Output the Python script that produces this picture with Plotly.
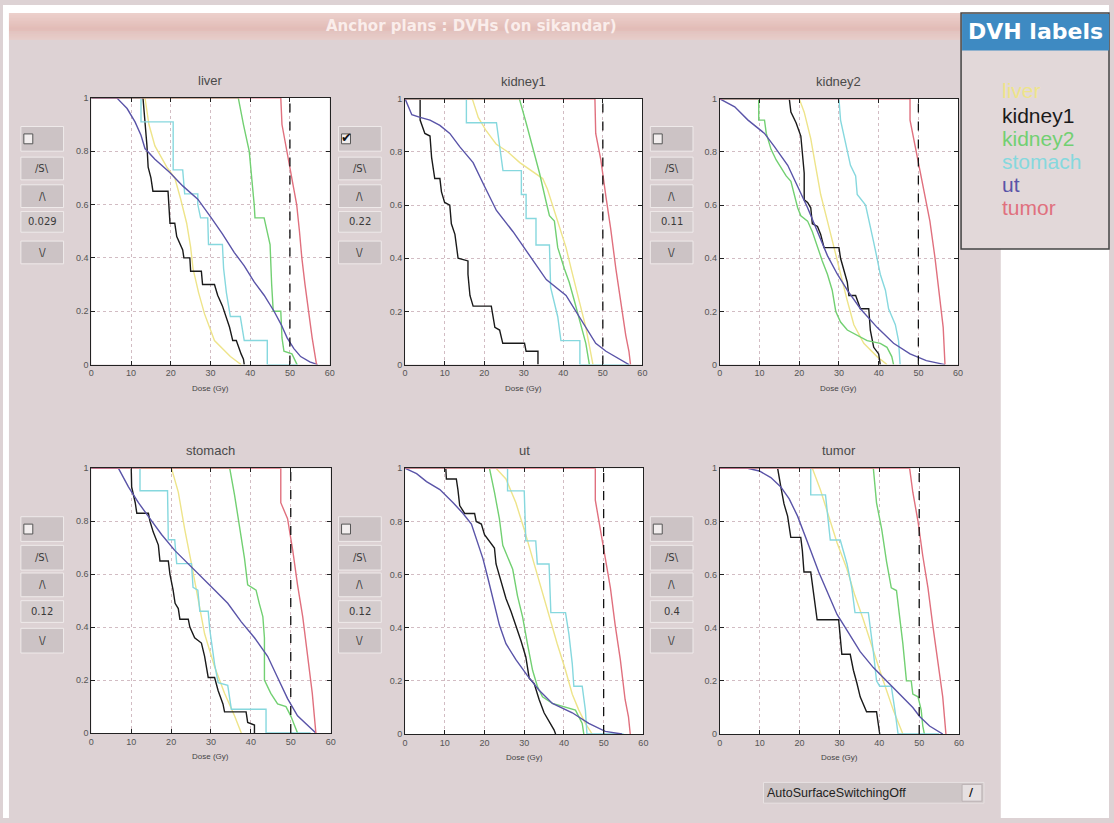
import plotly.graph_objects as go

W, H = 1114, 823

# ---------------------------------------------------------------- data
organs = ["liver", "kidney1", "kidney2", "stomach", "ut", "tumor"]
organ_colors = ["#EEE48A", "#1A1A1A", "#72D072", "#86D8DE", "#5A54A8", "#E0707E"]
dose_ticks = [0, 10, 20, 30, 40, 50, 60]
volume_ticks = [0, 0.2, 0.4, 0.6, 0.8, 1]
volume_labels = ["0", "0.2", "0.4", "0.6", "0.8", "1"]
rx_dose = 50
weights = ["0.029", "0.22", "0.11", "0.12", "0.12", "0.4"]
surface_on = [False, True, False, False, False, False]
button_labels = ["/S\\", "/\\", "\\/"]
window_title = "Anchor plans : DVHs (on sikandar)"
switch_label = "AutoSurfaceSwitchingOff"

# DVH curves (dose in Gy, fractional volume), one list per plan panel / structure
liver_liver = [(0, 1), (13.5, 1), (14.5, 0.9), (16, 0.82), (19, 0.74), (21, 0.7), (22.5, 0.62),
               (24, 0.53), (25, 0.44), (25.6, 0.36), (27, 0.27), (28.5, 0.19), (31, 0.09),
               (35, 0.03), (37.7, 0)]
liver_kidney1 = [(0, 1), (13, 1), (14, 0.82), (14.3, 0.74), (15, 0.7), (15.5, 0.65), (19.3, 0.65),
                 (19.5, 0.58), (19.8, 0.53), (21, 0.53), (21.5, 0.48), (23, 0.43), (23.3, 0.4),
                 (24.8, 0.4), (25, 0.35), (27.7, 0.35), (28, 0.3), (31, 0.3), (31.8, 0.26),
                 (33, 0.22), (34, 0.18), (34.8, 0.14), (35.6, 0.09), (36.5, 0.09), (37.7, 0.04),
                 (38.3, 0.02), (38.5, 0)]
liver_kidney2 = [(0, 1), (37, 1), (38.3, 0.9), (39.75, 0.8), (41, 0.6), (41.2, 0.55), (43.5, 0.55),
                 (45, 0.45), (45.4, 0.3), (45.8, 0.2), (47.7, 0.2), (48, 0.1), (48.5, 0.05),
                 (50.5, 0.04), (51.8, 0)]
liver_stomach = [(0, 1), (12.5, 1), (12.5, 0.91), (20.6, 0.91), (20.6, 0.73), (23, 0.73),
                 (23.5, 0.64), (26.8, 0.64), (26.8, 0.6), (27.5, 0.55), (29.3, 0.55), (29.5, 0.45),
                 (33, 0.45), (33.3, 0.36), (34, 0.27), (35, 0.18), (37.5, 0.18), (38.5, 0.09),
                 (44.3, 0.09), (44.3, 0), (52, 0)]
liver_ut = [(0, 1), (6.4, 1), (9, 0.96), (11, 0.91), (12.5, 0.86), (13.5, 0.81), (16, 0.77),
            (19.75, 0.72), (23, 0.67), (26.8, 0.62), (30.2, 0.55), (33, 0.49), (36, 0.42),
            (38.5, 0.37), (41, 0.31), (43.5, 0.26), (46, 0.2), (47.8, 0.15), (49.3, 0.1),
            (51, 0.06), (52.7, 0.03), (55, 0.01), (57, 0)]
liver_tumor = [(0, 1), (47.7, 1), (48, 0.9), (49.2, 0.8), (50.5, 0.7), (51.7, 0.6), (52.4, 0.5),
               (53, 0.4), (53.8, 0.3), (54.7, 0.2), (55.6, 0.1), (56.7, 0)]

kidney1_liver = [(0, 1), (17, 1), (18.5, 0.93), (20.5, 0.88), (23, 0.83), (26, 0.8), (29, 0.76),
                 (32, 0.73), (34.8, 0.7), (36, 0.66), (37.3, 0.6), (39, 0.52), (40.7, 0.44),
                 (42, 0.36), (43.2, 0.29), (44.5, 0.21), (45.7, 0.14), (46.6, 0.07), (47.5, 0)]
kidney1_kidney1 = [(0, 1), (3.8, 1), (3.8, 0.92), (5, 0.87), (6.3, 0.86), (6.7, 0.78), (7.5, 0.7),
                   (8.8, 0.7), (9.2, 0.65), (10, 0.61), (11.3, 0.6), (11.7, 0.53), (12.6, 0.49),
                   (13, 0.44), (13.4, 0.4), (15.9, 0.39), (15.9, 0.34), (16.4, 0.26), (17.2, 0.22),
                   (21.8, 0.22), (22.2, 0.18), (22.7, 0.14), (23.9, 0.13), (24.7, 0.08),
                   (30.2, 0.08), (30.6, 0.05), (33.6, 0.05), (33.6, 0)]
kidney1_kidney2 = [(0, 1), (28.9, 1), (30.6, 0.91), (32.3, 0.82), (34, 0.72), (35.7, 0.61),
                   (36.5, 0.56), (37.75, 0.54), (38.6, 0.44), (40.3, 0.36), (41.5, 0.31),
                   (42.8, 0.24), (44.5, 0.15), (45.7, 0.08), (46.6, 0)]
kidney1_stomach = [(0, 1), (15.5, 1), (15.5, 0.91), (23.1, 0.91), (24.75, 0.73), (29.4, 0.73),
                   (29.4, 0.64), (30.6, 0.64), (30.6, 0.55), (33.1, 0.55), (33.1, 0.45),
                   (36.5, 0.45), (36.8, 0.29), (38.6, 0.18), (39.4, 0.09), (44.2, 0.09),
                   (44.2, 0), (57, 0)]
kidney1_ut = [(0, 1), (1.7, 0.94), (3.8, 0.93), (6.3, 0.92), (8.8, 0.9), (11.3, 0.87),
              (13.8, 0.82), (17.2, 0.76), (20.1, 0.67), (23.1, 0.58), (27.3, 0.5), (30.6, 0.43),
              (35.7, 0.32), (40.7, 0.26), (44, 0.18), (48.2, 0.08), (50.8, 0.05), (55, 0.015),
              (56.6, 0)]
kidney1_tumor = [(0, 1), (48, 1), (48.2, 0.87), (49.5, 0.77), (50.8, 0.63), (52, 0.51),
                 (53.3, 0.36), (54.5, 0.24), (55.8, 0.11), (56.6, 0.05), (57, 0)]

kidney2_liver = [(0, 1), (20, 1), (21.25, 0.95), (22.9, 0.85), (24.2, 0.74), (25.4, 0.64),
                 (27.1, 0.54), (28.75, 0.44), (30.4, 0.34), (32.1, 0.24), (33.75, 0.15),
                 (36.25, 0.08), (39.6, 0.03), (42.1, 0)]
kidney2_kidney1 = [(0, 1), (17.5, 1), (17.9, 0.95), (19.2, 0.91), (20.4, 0.86), (20.8, 0.8),
                   (21.25, 0.72), (21.25, 0.62), (22.1, 0.61), (22.9, 0.59), (23.3, 0.53),
                   (24.6, 0.52), (25.4, 0.49), (26.25, 0.44), (30, 0.44), (30.4, 0.4),
                   (31.25, 0.35), (32.1, 0.31), (32.5, 0.26), (34.2, 0.26), (35.4, 0.21),
                   (37.5, 0.21), (37.9, 0.13), (38.75, 0.065), (40, 0.04), (40.4, 0)]
kidney2_kidney2 = [(0, 1), (9.8, 1), (9.8, 0.92), (11.25, 0.92), (11.7, 0.87), (12.9, 0.81),
                   (14.2, 0.77), (15.4, 0.74), (16.7, 0.71), (17.9, 0.69), (18.75, 0.64),
                   (19.6, 0.59), (20.4, 0.56), (22.1, 0.54), (23.3, 0.5), (24.6, 0.44),
                   (25.8, 0.39), (27.1, 0.34), (28.3, 0.28), (29.2, 0.2), (30.4, 0.16),
                   (32.1, 0.13), (37.1, 0.09), (40.4, 0.08), (42.1, 0.065), (43.3, 0.03),
                   (43.75, 0)]
kidney2_stomach = [(0, 1), (30, 1), (30.4, 0.92), (31.25, 0.86), (32.1, 0.8), (32.9, 0.75),
                   (34.2, 0.71), (34.6, 0.64), (36.7, 0.6), (37.5, 0.54), (38.75, 0.46),
                   (39.6, 0.4), (40.4, 0.34), (41.7, 0.28), (42.5, 0.21), (44.2, 0.15),
                   (45, 0.09), (45.4, 0)]
kidney2_ut = [(0, 1), (3.75, 0.97), (7.1, 0.92), (11.25, 0.87), (13.75, 0.82), (17.1, 0.75),
              (19.6, 0.67), (22.1, 0.59), (24.6, 0.5), (27.1, 0.41), (29.6, 0.34), (32.1, 0.28),
              (35.4, 0.21), (39.6, 0.14), (43.75, 0.08), (47.9, 0.04), (52, 0.015), (56.7, 0)]
kidney2_tumor = [(0, 1), (47.9, 1), (47.9, 0.92), (49.6, 0.79), (51.25, 0.66), (52.9, 0.54),
                 (54.2, 0.4), (55.4, 0.26), (56.25, 0.14), (56.7, 0)]

stomach_liver = [(0, 1), (20.1, 1), (21.8, 0.91), (23.4, 0.77), (25.1, 0.64), (26.8, 0.5),
                 (28.4, 0.375), (30.9, 0.25), (33.4, 0.15), (35.9, 0.065), (37.6, 0)]
stomach_kidney1 = [(0, 1), (10, 1), (10.1, 0.93), (11, 0.87), (11.4, 0.83), (14.3, 0.83),
                   (14.7, 0.8), (15.5, 0.76), (16.8, 0.71), (17.2, 0.65), (19.3, 0.65),
                   (19.7, 0.6), (20.5, 0.54), (21, 0.49), (21.8, 0.47), (22.2, 0.43),
                   (24.3, 0.43), (24.7, 0.4), (25.9, 0.36), (27.6, 0.34), (28.4, 0.29),
                   (29.3, 0.21), (30.9, 0.21), (31.8, 0.16), (33, 0.11), (33.4, 0.08),
                   (38.8, 0.08), (39.2, 0.04), (40.9, 0.03), (40.9, 0)]
stomach_kidney2 = [(0, 1), (34.7, 1), (35.9, 0.9), (37.2, 0.77), (38.4, 0.66), (39.2, 0.56),
                   (41.3, 0.54), (42.1, 0.49), (43, 0.44), (43.4, 0.36), (43.4, 0.2),
                   (45, 0.15), (46.7, 0.11), (48.8, 0.1), (50, 0.065), (50.9, 0.03), (51.7, 0)]
stomach_stomach = [(0, 1), (12.2, 1), (12.2, 0.915), (19.1, 0.915), (19.3, 0.73), (20.9, 0.73),
                   (21.4, 0.64), (25.1, 0.64), (25.5, 0.55), (26.7, 0.54), (27.2, 0.46),
                   (29.3, 0.46), (29.7, 0.39), (30.9, 0.26), (31.8, 0.19), (34.2, 0.18),
                   (35.1, 0.09), (43.8, 0.09), (43.8, 0), (55, 0)]
stomach_ut = [(0, 1), (6.8, 1), (9.3, 0.93), (11.8, 0.87), (14.7, 0.81), (17.6, 0.75),
              (20.9, 0.69), (24.3, 0.64), (27.6, 0.59), (30.9, 0.54), (34.2, 0.49), (37.6, 0.42),
              (40.9, 0.36), (44.2, 0.29), (46.7, 0.21), (49.2, 0.13), (51.7, 0.065),
              (54.2, 0.03), (56.3, 0)]
stomach_tumor = [(0, 1), (47.5, 1), (47.5, 0.87), (49.2, 0.81), (50.5, 0.69), (51.7, 0.56),
                 (53, 0.44), (54.2, 0.29), (55.4, 0.15), (56.3, 0)]

ut_liver = [(0, 1), (22.9, 1), (25.4, 0.96), (27.9, 0.87), (30, 0.77), (32.1, 0.66), (34.2, 0.55),
            (36.25, 0.44), (38.3, 0.34), (40.4, 0.24), (42.1, 0.15), (43.75, 0.09),
            (45.4, 0.04), (47.1, 0)]
ut_kidney1 = [(0, 1), (10.25, 1), (10.4, 0.96), (12.9, 0.96), (13.3, 0.92), (13.75, 0.86),
              (15, 0.83), (17.5, 0.83), (17.9, 0.8), (19.2, 0.79), (20, 0.75), (22.5, 0.7),
              (22.9, 0.64), (24.2, 0.57), (25.4, 0.51), (26.7, 0.46), (27.9, 0.41),
              (29.2, 0.35), (30.4, 0.29), (31.25, 0.21), (32.5, 0.19), (33.75, 0.13),
              (35, 0.08), (36.25, 0.05), (37.5, 0.016), (37.9, 0)]
ut_kidney2 = [(0, 1), (21.25, 1), (22.5, 0.91), (23.75, 0.81), (24.6, 0.71), (25.8, 0.67),
              (27.1, 0.62), (28.3, 0.52), (29.6, 0.44), (30.8, 0.34), (32.1, 0.24), (33.3, 0.18),
              (34.6, 0.14), (37.1, 0.115), (40.4, 0.1), (42.9, 0.09), (44.6, 0.04), (45, 0)]
ut_stomach = [(0, 1), (25.8, 1), (25.8, 0.915), (30, 0.915), (30.4, 0.727), (32.9, 0.727),
              (33.3, 0.64), (36.25, 0.64), (36.7, 0.457), (40.4, 0.457), (41.25, 0.376),
              (42.1, 0.264), (42.5, 0.18), (44.6, 0.18), (45.4, 0.09), (45.8, 0), (55, 0)]
ut_ut = [(0, 1), (2.9, 0.98), (5.4, 0.95), (8.75, 0.92), (12.1, 0.87), (14.6, 0.83), (16.7, 0.79),
         (18.3, 0.72), (19.6, 0.66), (20.8, 0.59), (22.1, 0.51), (23.75, 0.41), (25.4, 0.34),
         (27.9, 0.28), (30.8, 0.22), (33.75, 0.165), (37.1, 0.115), (42.1, 0.08), (46.25, 0.04),
         (50.4, 0.01), (54.6, 0)]
ut_tumor = [(0, 1), (47.9, 1), (47.9, 0.88), (49.2, 0.77), (50.4, 0.66), (51.7, 0.55),
            (52.9, 0.41), (54.2, 0.28), (55.4, 0.13), (56.25, 0.065), (56.7, 0)]

tumor_liver = [(0, 1), (23.2, 1), (25.2, 0.92), (27.3, 0.82), (29.4, 0.72), (31.9, 0.62),
               (33.9, 0.52), (36, 0.43), (38.1, 0.33), (40.1, 0.24), (41.8, 0.165), (43.5, 0.09),
               (45.1, 0.03), (45.9, 0)]
tumor_kidney1 = [(0, 1), (14.5, 1), (15.3, 0.93), (16.1, 0.866), (17, 0.82), (17.8, 0.74),
                 (20.3, 0.74), (20.7, 0.69), (21.1, 0.61), (22.8, 0.61), (23.6, 0.52),
                 (24.4, 0.43), (29.8, 0.43), (30.2, 0.36), (30.6, 0.3), (32.7, 0.3), (33.5, 0.24),
                 (34.4, 0.19), (35.2, 0.14), (36.8, 0.084), (39.3, 0.084), (40.1, 0)]
tumor_kidney2 = [(0, 1), (38.5, 1), (39.3, 0.87), (40.6, 0.77), (41.8, 0.65), (43, 0.55),
                 (44.3, 0.54), (45.1, 0.44), (45.9, 0.34), (46.8, 0.2), (48, 0.2), (48.4, 0.15),
                 (49.7, 0.14), (50.5, 0.09), (50.9, 0.03), (51.3, 0)]
tumor_stomach = [(0, 1), (22.8, 1), (22.8, 0.9), (26.5, 0.9), (27.7, 0.73), (30.2, 0.73),
                 (31.9, 0.64), (33.1, 0.55), (33.9, 0.457), (37.25, 0.457), (38.5, 0.31),
                 (39.3, 0.2), (40.1, 0.18), (43, 0.18), (43.9, 0.09), (44.7, 0), (55, 0)]
tumor_ut = [(0, 1), (7, 1), (9.9, 0.99), (12.8, 0.965), (15.3, 0.93), (17.4, 0.885), (19.5, 0.82),
            (21.1, 0.76), (22.8, 0.69), (24.8, 0.61), (26.9, 0.54), (29.4, 0.45), (31.9, 0.39),
            (35.2, 0.31), (38.5, 0.25), (41.8, 0.2), (45.1, 0.15), (48.4, 0.1), (50.1, 0.066),
            (52.6, 0.03), (55.9, 0)]
tumor_tumor = [(0, 1), (47.6, 1), (48.4, 0.91), (49.7, 0.8), (50.9, 0.67), (52.2, 0.55),
               (53.4, 0.41), (54.6, 0.28), (55.9, 0.14), (56.7, 0)]

panel_curves = [
    [liver_liver, liver_kidney1, liver_kidney2, liver_stomach, liver_ut, liver_tumor],
    [kidney1_liver, kidney1_kidney1, kidney1_kidney2, kidney1_stomach, kidney1_ut, kidney1_tumor],
    [kidney2_liver, kidney2_kidney1, kidney2_kidney2, kidney2_stomach, kidney2_ut, kidney2_tumor],
    [stomach_liver, stomach_kidney1, stomach_kidney2, stomach_stomach, stomach_ut, stomach_tumor],
    [ut_liver, ut_kidney1, ut_kidney2, ut_stomach, ut_ut, ut_tumor],
    [tumor_liver, tumor_kidney1, tumor_kidney2, tumor_stomach, tumor_ut, tumor_tumor],
]

# ---------------------------------------------------------------- layout geometry (pixels)
PANEL_BG = "#DDD2D4"
BUTTON_BG = "#CCC3C5"
FIELD_BG = "#D4CCCD"
TEXT = "#333333"

axes_px = [(89, 329, 94, 364), (405, 644, 95, 364), (722, 962, 95, 364),
           (89, 330, 469, 737), (405, 645, 469, 738), (722, 963, 469, 738)]
button_x = [18, 338, 652, 18, 338, 652]
button_w = 43
button_rows = [
    [(123, 148), (154, 177), (182, 205), (209, 230), (239, 262)],
    [(518, 543), (547, 572), (575, 599), (603, 625), (631, 656)],
]


def px(x):
    return x / W


def py(y):
    return 1 - y / H


shapes = []
annotations = []


def rect(x0, y0, x1, y1, fill, line_color=None, line_width=0, layer="below"):
    shapes.append(dict(type="rect", xref="paper", yref="paper",
                       x0=px(x0), x1=px(x1), y0=py(y1), y1=py(y0),
                       fillcolor=fill, layer=layer,
                       line=dict(color=line_color or fill, width=line_width)))


def label(x, y, text, size, color=TEXT, family="Liberation Sans", xanchor="center", bold=False):
    if bold:
        text = "<b>" + text + "</b>"
    annotations.append(dict(xref="paper", yref="paper", x=px(x), y=py(y), text=text,
                            showarrow=False, xanchor=xanchor, yanchor="middle",
                            font=dict(size=size, color=color, family=family)))


# outside of the application window
rect(0, 0, 6, H, "white")
rect(0, 0, W, 8, "white")
rect(1005, 0, W, H, "white")

# window title bar with a soft vertical gradient
top, mid, bot = (236, 208, 204), (226, 188, 183), (232, 203, 199)
bar_y0, bar_y1 = 8, 35
for k in range(bar_y1 - bar_y0):
    t = k / (bar_y1 - bar_y0 - 1)
    if t < 0.6:
        u = t / 0.6
        c = [round(a + (b - a) * u) for a, b in zip(top, mid)]
    else:
        u = (t - 0.6) / 0.4
        c = [round(a + (b - a) * u) for a, b in zip(mid, bot)]
    rect(6, bar_y0 + k, 1005, bar_y0 + k + 1.2, "rgb(%d,%d,%d)" % tuple(c))
label(472, 21, window_title, 15, color="#FAEDEB", family="DejaVu Sans", bold=True)

fig = go.Figure()

for i, name in enumerate(organs):
    ax = "" if i == 0 else str(i + 1)
    x0, x1, y0, y1 = axes_px[i]
    common = dict(showline=True, linecolor="#222222", linewidth=1, mirror="ticks",
                  ticks="inside", ticklen=4, tickcolor="#222222", showgrid=True,
                  gridcolor="#D2BCC3", griddash="dot", gridwidth=1, zeroline=False,
                  tickfont=dict(size=9, color="#555555", family="Liberation Sans"),
                  fixedrange=True)
    fig.update_layout(**{
        "xaxis" + ax: dict(domain=[px(x0), px(x1)], anchor="y" + ax, range=[0, 60],
                           tickvals=dose_ticks, **common),
        "yaxis" + ax: dict(domain=[py(y1), py(y0)], anchor="x" + ax, range=[0, 1],
                           tickvals=volume_ticks, ticktext=volume_labels, **common),
    })

    for organ, color, pts in zip(organs, organ_colors, panel_curves[i]):
        fig.add_trace(go.Scatter(x=[p[0] for p in pts], y=[p[1] for p in pts], mode="lines",
                                 line=dict(color=color, width=1.4), name=organ,
                                 xaxis="x" + ax, yaxis="y" + ax, showlegend=False,
                                 hoverinfo="skip"))
    fig.add_trace(go.Scatter(x=[rx_dose, rx_dose], y=[0, 1], mode="lines",
                             line=dict(color="#111111", width=1.3, dash="dash"),
                             xaxis="x" + ax, yaxis="y" + ax, showlegend=False, hoverinfo="skip"))

    # panel title and axis label
    cx = (x0 + x1) / 2
    label(cx, y0 - 18, name, 13, color="#4A4A4A")
    label(cx, y1 + 24, "Dose (Gy)", 8, color="#444444")

    # control column: surface checkbox, shape buttons and weight field
    rows = button_rows[i // 3]
    bx0 = button_x[i]
    bx1 = bx0 + button_w
    for r, (ry0, ry1) in enumerate(rows):
        fill = FIELD_BG if r == 3 else BUTTON_BG
        rect(bx0, ry0, bx1, ry1, fill, line_color="#EFEAEA", line_width=1)
    cy0, cy1 = rows[0]
    cmid = (cy0 + cy1) / 2
    rect(bx0 + 3, cmid - 5, bx0 + 12, cmid + 5, "#F2EEEE", line_color="#555555", line_width=1)
    if surface_on[i]:
        label(bx0 + 8, cmid - 1, "\u2714", 13, color="#111111", family="DejaVu Sans")
    for r, txt in zip([1, 2, 4], button_labels):
        ry0, ry1 = rows[r]
        label((bx0 + bx1) / 2, (ry0 + ry1) / 2, txt, 10, color="#3A3A3A", family="DejaVu Sans")
    ry0, ry1 = rows[3]
    label((bx0 + bx1) / 2, (ry0 + ry1) / 2, weights[i], 10, color="#3A3A3A", family="DejaVu Sans")

# structure colour key
rect(965, 8, 1114, 247, "#E2D8D9", line_color="#444444", line_width=1.5)
rect(966, 9, 1114, 46, "#3E8AC2")
label(1040, 27, "DVH labels", 22, color="white", family="DejaVu Sans", bold=True)
key_y = [87, 112, 135, 158, 182, 205]
for organ, color, yk in zip(organs, organ_colors, key_y):
    label(1004, yk, organ, 21, color=color, xanchor="left")

# surface switching drop-down
rect(766, 787, 988, 808, "#CEC6C7", line_color="#E8E2E2", line_width=1)
rect(966, 789, 986, 806, "#E6E0E1", line_color="#BBB2B4", line_width=1)
label(768, 797.5, switch_label, 12.5, color="#222222", xanchor="left")
label(976, 797.5, "/", 11, color="#111111", family="DejaVu Sans", bold=True)

fig.update_layout(width=W, height=H, margin=dict(l=0, r=0, t=0, b=0),
                  paper_bgcolor=PANEL_BG, plot_bgcolor="white",
                  shapes=shapes, annotations=annotations, showlegend=False)

fig.write_html("out.html")
